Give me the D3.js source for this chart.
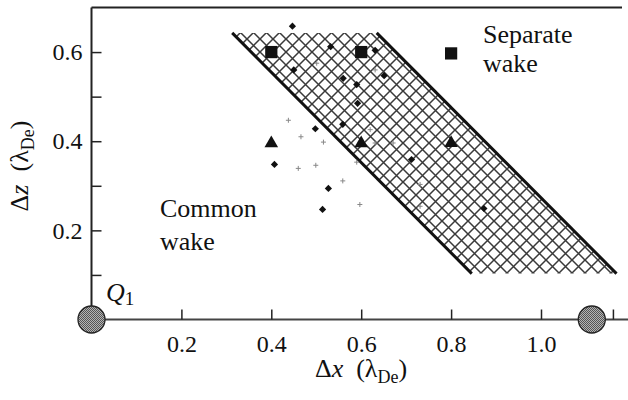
<!DOCTYPE html>
<html>
<head>
<meta charset="utf-8">
<script src="https://cdn.jsdelivr.net/npm/d3@7"></script>
<style>
  body { margin: 0; background: #fff; }
  svg text { font-family: "Liberation Serif", "DejaVu Serif", serif; fill: #111; }
</style>
</head>
<body>
<div class="container"></div>
<script>
// values (x, z in lambda_De)
var band = [[0.313, 0.643], [0.6345, 0.643], [1.168, 0.103], [0.846, 0.103]];
var squares = [[0.4, 0.6], [0.6, 0.6], [0.8, 0.597]];
var triangles = [[0.4, 0.395], [0.6, 0.395], [0.8, 0.396]];
var dots = [[0.447, 0.658], [0.532, 0.612], [0.631, 0.604], [0.450, 0.560], [0.560, 0.541],
            [0.651, 0.547], [0.590, 0.527], [0.592, 0.485], [0.559, 0.438], [0.498, 0.428],
            [0.407, 0.348], [0.712, 0.359], [0.527, 0.294], [0.514, 0.247], [0.873, 0.249]];
var crosses = [[0.438, 0.447], [0.466, 0.410], [0.516, 0.398], [0.460, 0.339], [0.499, 0.346],
               [0.559, 0.311], [0.597, 0.258], [0.620, 0.426], [0.631, 0.396], [0.671, 0.396],
               [0.590, 0.353], [0.731, 0.303], [0.731, 0.254], [0.501, 0.575], [0.631, 0.560]];
var charges = [[0, 0], [1.113, 0]];
var xTicks = [0.2, 0.4, 0.6, 0.8, 1.0];
var xExtraTicks = [1.16];
var yTicks = [0.2, 0.4, 0.6];
var yMinorTicks = [0.1, 0.3, 0.5];

var W = 628, H = 400;
var FONT = "'Liberation Serif', 'DejaVu Serif', serif";
var svg = d3.select(".container").append("svg").attr("width", W).attr("height", H)
	.attr("font-family", FONT);

var x = d3.scaleLinear().domain([0, 1]).range([91.5, 541]);
var y = d3.scaleLinear().domain([0, 0.7]).range([319.5, 7.5]);

var defs = svg.append("defs");
var hatch = defs.append("pattern").attr("id", "hatch")
	.attr("patternUnits", "userSpaceOnUse").attr("width", 13).attr("height", 13);
hatch.append("rect").attr("width", 13).attr("height", 13).attr("fill", "#fff");
hatch.append("path").attr("d", "M-1,-1L14,14M14,-1L-1,14")
	.attr("stroke", "#3a3a3a").attr("stroke-width", 1.5).attr("fill", "none");

var dotsPat = defs.append("pattern").attr("id", "stipple")
	.attr("patternUnits", "userSpaceOnUse").attr("width", 2).attr("height", 2);
dotsPat.append("rect").attr("width", 2).attr("height", 2).attr("fill", "#b4b4b4");
dotsPat.append("rect").attr("width", 1).attr("height", 1).attr("fill", "#555");
dotsPat.append("rect").attr("x", 1).attr("y", 1).attr("width", 1).attr("height", 1).attr("fill", "#555");

// hatched band
var line = d3.line().x(function(d) { return x(d[0]); }).y(function(d) { return y(d[1]); });
svg.append("path").datum(band).attr("d", line.curve(d3.curveLinearClosed)).attr("fill", "url(#hatch)");
line.curve(d3.curveLinear);
svg.selectAll(".edge").data([[band[0], band[3]], [band[1], band[2]]]).enter().append("path")
	.attr("class", "edge").attr("d", line)
	.attr("stroke", "#111").attr("stroke-width", 3).attr("fill", "none");

// frame + axes
svg.append("line").attr("x1", x(0)).attr("x2", 622).attr("y1", y(0.7)).attr("y2", y(0.7))
	.attr("stroke", "#222").attr("stroke-width", 2);
svg.append("line").attr("x1", x(0)).attr("x2", x(0)).attr("y1", y(0.7)).attr("y2", y(0))
	.attr("stroke", "#222").attr("stroke-width", 2);
svg.append("line").attr("x1", x(0)).attr("x2", W).attr("y1", y(0)).attr("y2", y(0))
	.attr("stroke", "#444").attr("stroke-width", 2);

var yAxis = svg.append("g").attr("transform", "translate(" + x(0) + ",0)")
	.call(d3.axisLeft(y).tickValues(yTicks).tickSize(-10).tickPadding(9).tickFormat(d3.format(".1f")));
var yMinor = svg.append("g").attr("transform", "translate(" + x(0) + ",0)")
	.call(d3.axisLeft(y).tickValues(yMinorTicks).tickSize(-10).tickFormat(""));
var xAxis = svg.append("g").attr("transform", "translate(0," + y(0) + ")")
	.call(d3.axisBottom(x).tickValues(xTicks).tickSize(-10).tickPadding(15).tickFormat(d3.format(".1f")));
var xExtra = svg.append("g").attr("transform", "translate(0," + y(0) + ")")
	.call(d3.axisBottom(x).tickValues(xExtraTicks).tickSize(-10).tickFormat(""));

[yAxis, yMinor, xAxis, xExtra].forEach(function(g) {
	g.attr("font-family", FONT).attr("font-size", 24);
	g.select(".domain").remove();
	g.selectAll("line").attr("stroke", "#222").attr("stroke-width", 1.5);
	g.selectAll("text").attr("fill", "#111");
});

// markers
function px(d) { return "translate(" + x(d[0]) + "," + y(d[1]) + ")"; }

svg.selectAll(".dot").data(dots).enter().append("path").attr("class", "dot")
	.attr("d", d3.symbol().type(d3.symbolSquare).size(26))
	.attr("transform", function(d) { return px(d) + " rotate(45)"; })
	.attr("fill", "#111");

var thinPlus = { draw: function(ctx, size) {
	var r = Math.sqrt(size) / 2;
	ctx.moveTo(-r, 0); ctx.lineTo(r, 0);
	ctx.moveTo(0, -r); ctx.lineTo(0, r);
}};
svg.selectAll(".cross").data(crosses).enter().append("path").attr("class", "cross")
	.attr("d", d3.symbol().type(thinPlus).size(25))
	.attr("transform", px)
	.attr("stroke", "#888").attr("stroke-width", 1).attr("fill", "none");

svg.selectAll(".sq").data(squares).enter().append("path").attr("class", "sq")
	.attr("d", d3.symbol().type(d3.symbolSquare).size(150))
	.attr("transform", px).attr("fill", "#111");

svg.selectAll(".tri").data(triangles).enter().append("path").attr("class", "tri")
	.attr("d", d3.symbol().type(d3.symbolTriangle).size(80))
	.attr("transform", px).attr("fill", "#111");

svg.selectAll(".charge").data(charges).enter().append("circle").attr("class", "charge")
	.attr("cx", function(d) { return x(d[0]); })
	.attr("cy", function(d) { return y(d[1]); })
	.attr("r", 13.5)
	.attr("fill", "url(#stipple)").attr("stroke", "#222").attr("stroke-width", 1.3);

// text labels
function label(tx, ty, lines, gap) {
	lines.forEach(function(s, i) {
		svg.append("text").attr("x", tx).attr("y", ty + i * gap).attr("font-size", 26).text(s);
	});
}
label(483, 42.5, ["Separate", "wake"], 29);
label(160, 217, ["Common", "wake"], 33);

var q = svg.append("text").attr("x", 106).attr("y", 301).attr("font-size", 26);
q.append("tspan").attr("font-style", "italic").text("Q");
q.append("tspan").attr("font-size", 19).attr("dy", 4).text("1");

function axisTitle(t, v) {
	t.append("tspan").text("\u0394");
	t.append("tspan").attr("font-style", "italic").text(v);
	t.append("tspan").text("\u2002(\u03bb");
	t.append("tspan").attr("font-size", 18).attr("dy", 6).text("De");
	t.append("tspan").attr("dy", -6).text(")");
}
axisTitle(svg.append("text").attr("x", 361).attr("y", 377).attr("font-size", 26)
	.attr("text-anchor", "middle"), "x");
axisTitle(svg.append("text").attr("transform", "translate(28,166) rotate(-90)").attr("font-size", 26)
	.attr("text-anchor", "middle"), "z");
</script>
</body>
</html>
